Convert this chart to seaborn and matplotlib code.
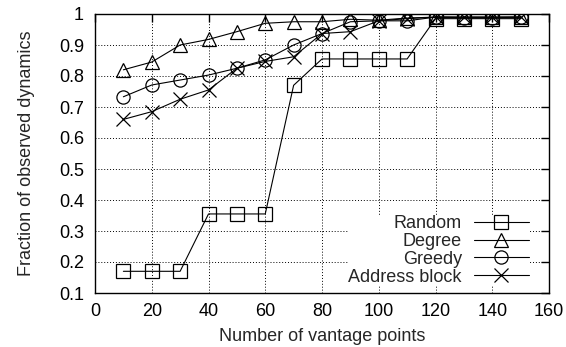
import matplotlib
matplotlib.use("Agg")
import matplotlib.pyplot as plt
import seaborn as sns
import pandas as pd
from matplotlib.ticker import FixedLocator, FuncFormatter
from matplotlib.lines import Line2D

vantage_points = [10, 20, 30, 40, 50, 60, 70, 80, 90, 100, 110, 120, 130, 140, 150]
random_vals = [0.17, 0.17, 0.17, 0.355, 0.355, 0.355, 0.77, 0.855, 0.855, 0.855, 0.855, 0.985, 0.985, 0.985, 0.985]
degree_vals = [0.82, 0.845, 0.90, 0.918, 0.943, 0.97, 0.975, 0.975, 0.983, 0.98, 0.987, 0.99, 0.99, 0.99, 0.99]
greedy_vals = [0.733, 0.771, 0.787, 0.803, 0.825, 0.852, 0.90, 0.937, 0.975, 0.978, 0.978, 0.99, 0.988, 0.988, 0.99]
address_vals = [0.66, 0.685, 0.725, 0.755, 0.825, 0.847, 0.862, 0.937, 0.943, 0.978, 0.985, 0.99, 0.99, 0.99, 0.99]
methods = ["Random", "Degree", "Greedy", "Address block"]
series = dict(zip(methods, [random_vals, degree_vals, greedy_vals, address_vals]))

sns.set_style("white")
plt.rcParams["font.family"] = ["Liberation Sans", "DejaVu Sans"]
FS = 13

fig = plt.figure(figsize=(5.66, 3.47), dpi=100)
ax = fig.add_axes([95 / 566, 1 - 293 / 347, (549 - 95) / 566, (293 - 14) / 347])

markers = {"Random": "s", "Degree": "^", "Greedy": "o", "Address block": "x"}
for m in methods:
    df = pd.DataFrame({"x": vantage_points, "y": series[m]})
    sns.lineplot(data=df, x="x", y="y", color="black", marker=markers[m],
                 linewidth=0.8, markersize=9.5, markerfacecolor="none",
                 markeredgecolor="black", markeredgewidth=0.9, ax=ax, legend=False)

ax.set_xlim(0, 160)
ax.set_ylim(0.1, 1.0)
ax.xaxis.set_major_locator(FixedLocator(list(range(0, 161, 20))))
ax.yaxis.set_major_locator(FixedLocator([0.1 * i for i in range(1, 11)]))
ax.yaxis.set_major_formatter(FuncFormatter(lambda v, p: "%g" % round(v, 1)))
ax.tick_params(direction="in", length=6, width=1, top=True, right=True,
               labelsize=FS, colors="black")
ax.tick_params(axis="y", pad=8)
ax.tick_params(axis="x", pad=7)
for s in ax.spines.values():
    s.set_color("black")
    s.set_linewidth(1)
ax.grid(True, linestyle=(0, (1, 2)), color="black", linewidth=0.7)
ax.set_axisbelow(True)

ax.set_xlabel("Number of vantage points", fontsize=FS, labelpad=6)
ax.set_ylabel("Fraction of observed dynamics", fontsize=FS, labelpad=17)

handles = [Line2D([0], [0], color="black", lw=0.8, marker=markers[m], markersize=9.5,
                  markerfacecolor="none", markeredgecolor="black", markeredgewidth=0.9)
           for m in methods]
leg = ax.legend(handles, methods, loc="lower right", bbox_to_anchor=(0.975, -0.006),
                markerfirst=False, handlelength=3.05, fontsize=FS, frameon=True,
                framealpha=1, facecolor="white", edgecolor="none", fancybox=False,
                labelspacing=0.05, handletextpad=0.65, borderpad=0.0)
for t in leg.get_texts():
    t.set_ha("right")
leg._legend_box.align = "right"

fig.savefig("out.png", dpi=100)
